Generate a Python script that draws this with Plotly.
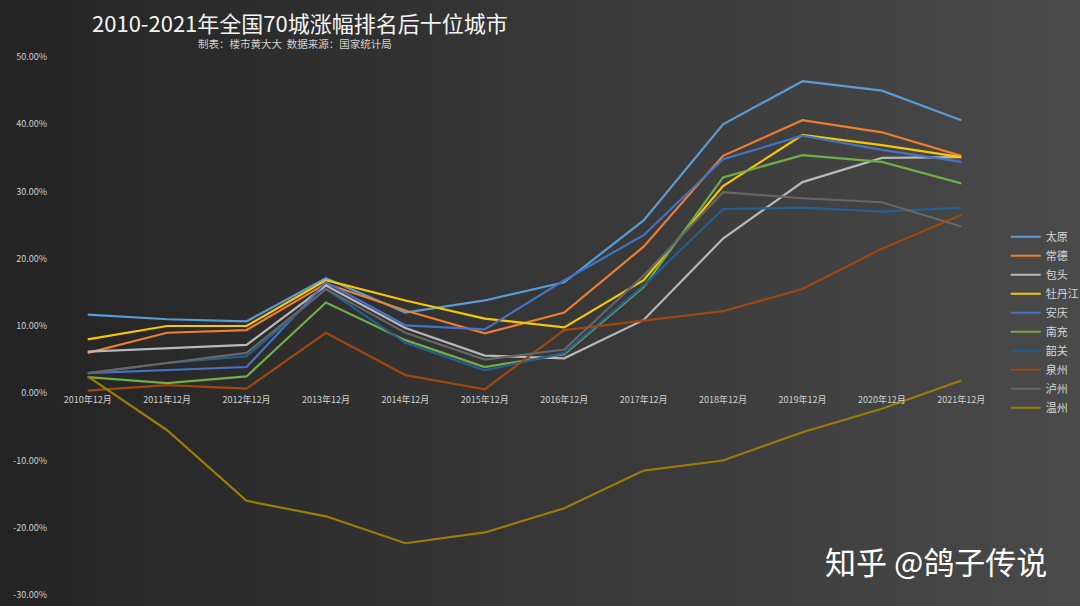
import plotly.graph_objects as go

categories = ["2010年12月", "2011年12月", "2012年12月", "2013年12月", "2014年12月", "2015年12月",
              "2016年12月", "2017年12月", "2018年12月", "2019年12月", "2020年12月", "2021年12月"]

taiyuan =    [11.7, 11.0, 10.7, 17.1, 12.0, 13.8, 16.5, 25.7, 40.0, 46.4, 45.0, 40.6]
changde =    [6.0, 9.0, 9.4, 16.3, 12.3, 8.9, 12.0, 21.8, 35.3, 40.6, 38.8, 35.3]
baotou =     [6.2, 6.7, 7.2, 16.0, 9.7, 5.6, 5.2, 10.9, 23.0, 31.4, 35.0, 35.1]
mudanjiang = [8.0, 10.0, 10.0, 16.8, 13.8, 11.1, 9.8, 16.8, 30.8, 38.4, 36.9, 35.1]
anqing =     [3.0, 3.4, 3.9, 16.5, 10.1, 9.5, 16.8, 23.5, 34.8, 38.3, 36.2, 34.4]
nanchong =   [2.4, 1.5, 2.5, 13.5, 7.9, 3.9, 5.8, 15.8, 32.1, 35.4, 34.4, 31.2]
shaoguan =   [3.0, 4.5, 5.5, 15.5, 7.5, 3.4, 6.0, 16.0, 27.4, 27.6, 27.0, 27.6]
quanzhou =   [0.4, 1.2, 0.7, 9.0, 2.7, 0.6, 9.4, 10.8, 12.2, 15.5, 21.5, 26.5]
luzhou =     [3.0, 4.5, 6.0, 15.5, 9.0, 5.0, 6.5, 17.5, 29.9, 29.0, 28.4, 24.8]
wenzhou =    [2.5, -5.5, -16.0, -18.3, -22.3, -20.7, -17.1, -11.5, -10.0, -5.8, -2.3, 1.9]

series_names = ["太原", "常德", "包头", "牡丹江", "安庆", "南充", "韶关", "泉州", "泸州", "温州"]
series_values = [taiyuan, changde, baotou, mudanjiang, anqing, nanchong, shaoguan, quanzhou, luzhou, wenzhou]
series_colors = ["#5b9bd5", "#ed7d31", "#b8b8b8", "#f5c800", "#4472c4",
                 "#70ad47", "#255e91", "#9e480e", "#666666", "#9a7d08"]

y_ticks = [-30, -20, -10, 0, 10, 20, 30, 40, 50]

fig = go.Figure()
for name, vals, col in zip(series_names, series_values, series_colors):
    fig.add_trace(go.Scatter(x=categories, y=vals, name=name, mode="lines",
                             line=dict(color=col, width=2.2)))

# background gradient (dark left to lighter right)
W, H = 1080, 606
pl, pr, pt, pb = 48, 79, 57, 11
pw, ph = W - pl - pr, H - pt - pb
n = 60
shapes = []
for i in range(n):
    x0 = (i * W / n - pl) / pw
    x1 = min(((i + 1) * W / n - pl) / pw + 0.001, (W - pl) / pw)
    c = int(36 + (74 - 36) * i / (n - 1))
    shapes.append(dict(type="rect", xref="paper", yref="paper", x0=x0, x1=x1,
                       y0=-pb / ph, y1=(H - pb) / ph,
                       fillcolor=f"rgb({c},{c},{c})", line=dict(width=0), layer="below"))

zero_pos = (0 - (-30)) / (50 - (-30))

fig.update_layout(
    width=W, height=H,
    margin=dict(l=pl, r=pr, t=pt, b=pb, autoexpand=False),
    paper_bgcolor="#3a3a3a",
    plot_bgcolor="rgba(0,0,0,0)",
    shapes=shapes,
    font=dict(family="Noto Sans CJK SC, Noto Sans, sans-serif", color="#cfcfcf"),
    xaxis=dict(type="category", range=[-0.5, 11.5], anchor="free", position=zero_pos,
               showline=False, showgrid=False, zeroline=False, ticks="", automargin=False,
               tickfont=dict(size=9, color="#cfcfcf"), tickangle=0),
    yaxis=dict(range=[-30, 50], tickvals=y_ticks, automargin=False,
               ticktext=[f"{v:.2f}%" for v in y_ticks],
               showgrid=False, zeroline=False, showline=False, ticks="",
               tickfont=dict(size=9, color="#cfcfcf")),
    legend=dict(x=1.005, y=0.507, xanchor="left", yanchor="middle",
                bgcolor="rgba(0,0,0,0)", font=dict(size=11, color="#d6d6d6"),
                itemwidth=30, tracegroupgap=0),
    showlegend=True,
    annotations=[
        dict(text="2010-2021年全国70城涨幅排名后十位城市", xref="paper", yref="paper",
             x=(300 - pl) / pw, y=(H - pb - 22) / ph, xanchor="center", yanchor="middle",
             showarrow=False, font=dict(size=22, color="#f4f4f4")),
        dict(text="制表：楼市黄大大  数据来源：国家统计局", xref="paper", yref="paper",
             x=(295 - pl) / pw, y=(H - pb - 43) / ph, xanchor="center", yanchor="middle",
             showarrow=False, font=dict(size=10.5, color="#d0d0d0")),
        dict(text="知乎 @鸽子传说", xref="paper", yref="paper",
             x=(936 - pl) / pw, y=(H - pb - 560) / ph, xanchor="center", yanchor="middle",
             showarrow=False, font=dict(size=31, color="#ffffff")),
    ],
)

fig.write_html("out.html", config={"displayModeBar": False},
               post_script="document.body.style.margin='0';document.body.style.overflow='hidden';")
